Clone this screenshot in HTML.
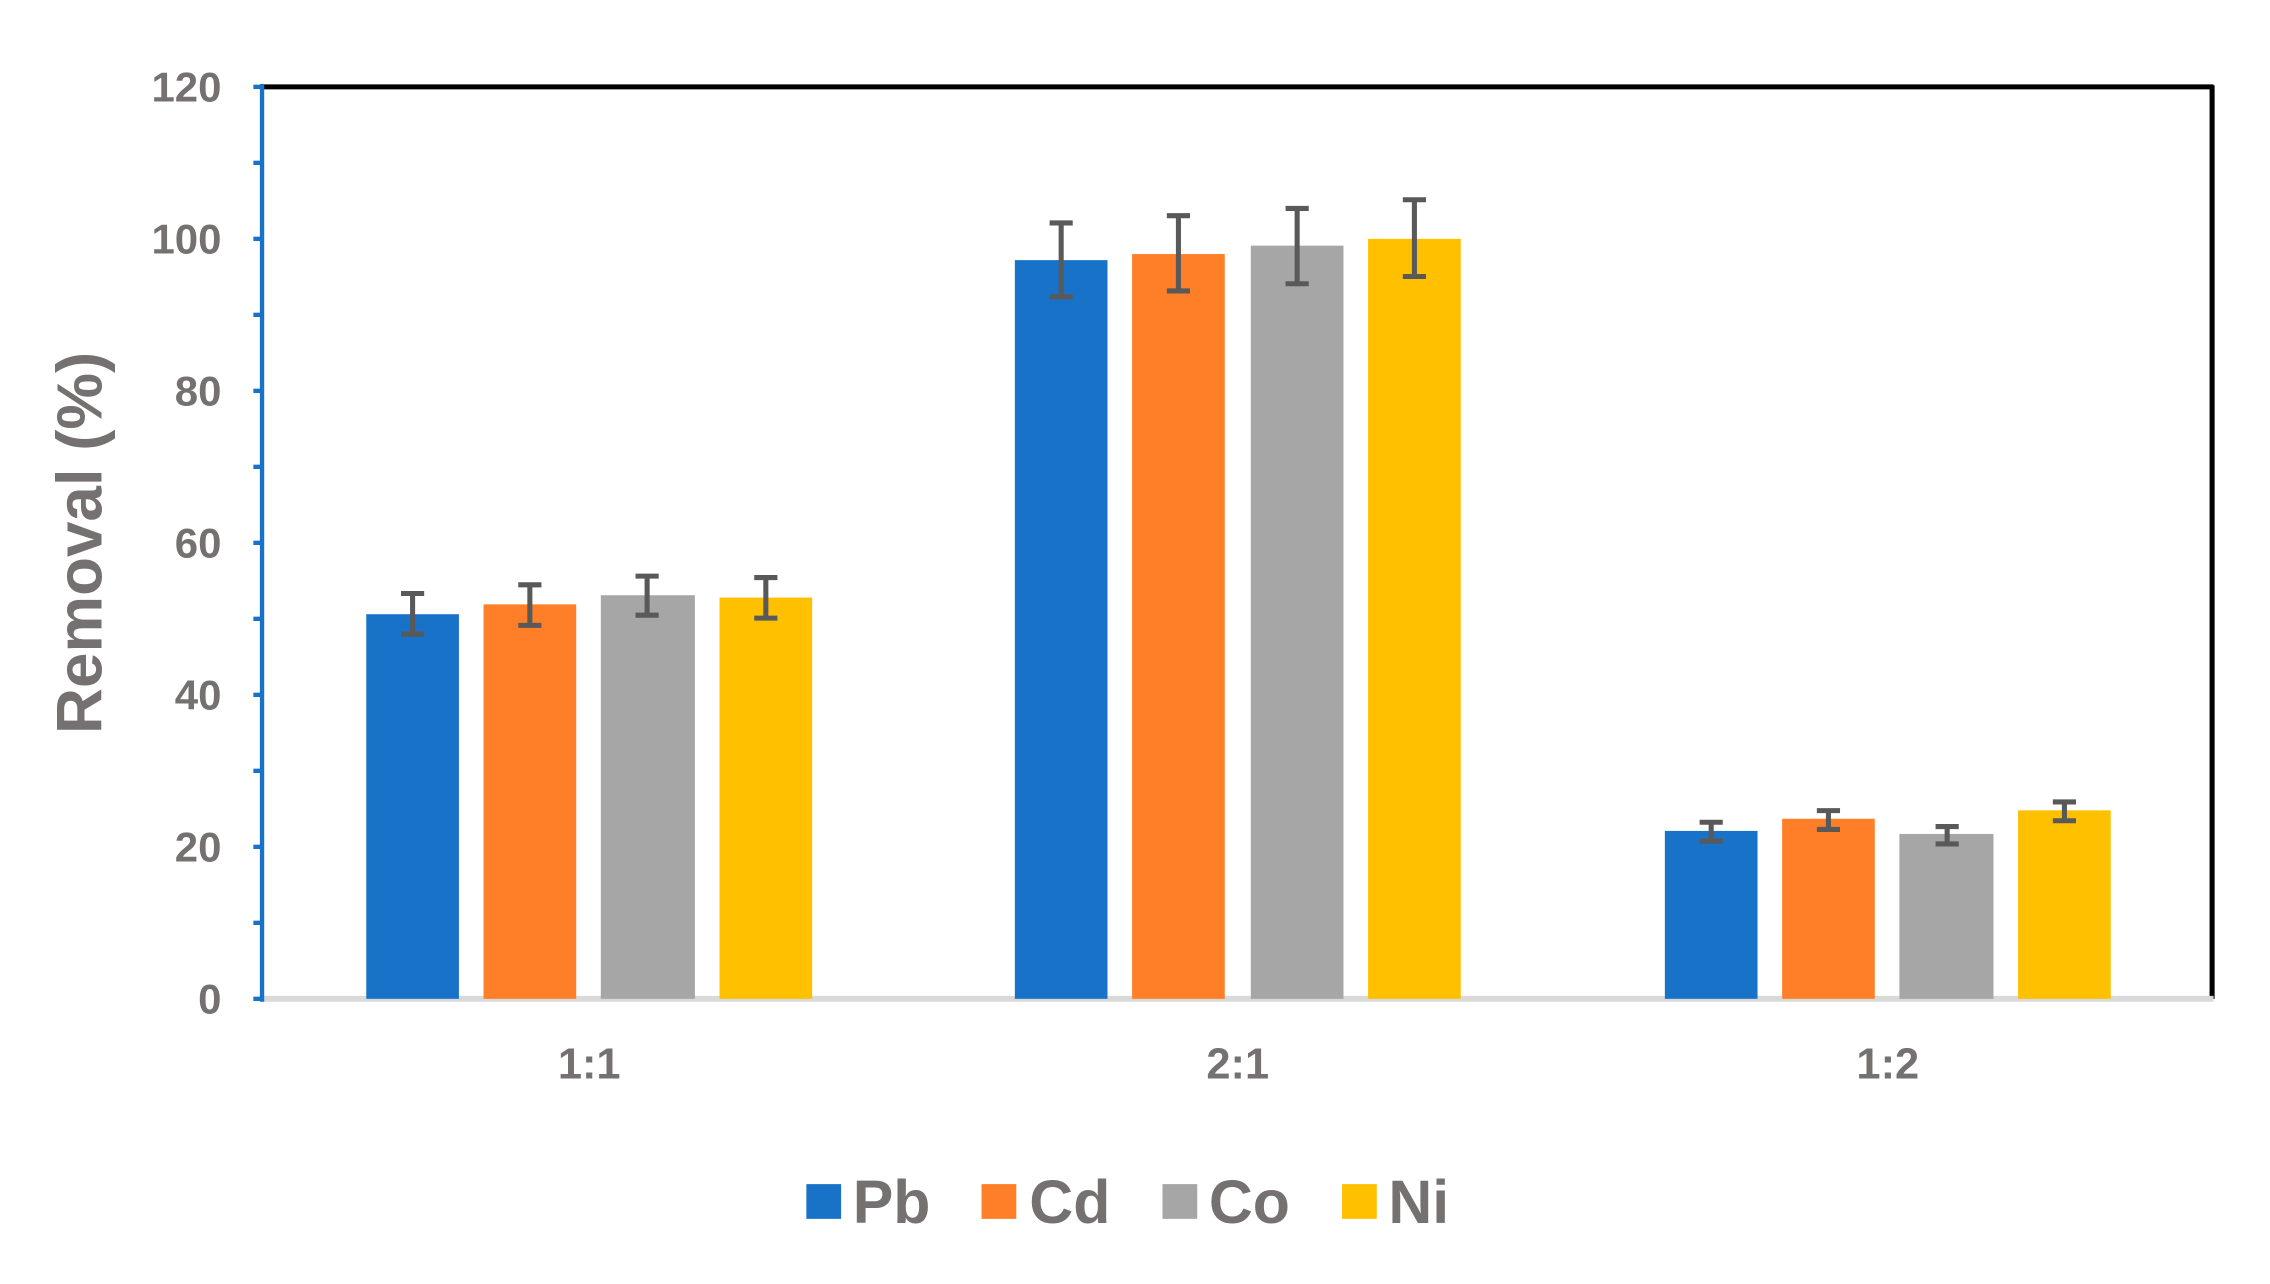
<!DOCTYPE html>
<html><head><style>html,body{margin:0;padding:0;background:#fff}svg{display:block}</style></head><body>
<svg width="2270" height="1284" viewBox="0 0 1568 887" preserveAspectRatio="none" xmlns="http://www.w3.org/2000/svg" font-family="Liberation Sans, Arial, sans-serif" font-weight="bold">
<rect width="1568" height="887" fill="#fff"/>
<line x1="181" y1="60" x2="1529" y2="60" stroke="#000" stroke-width="3.5"/>
<line x1="1528" y1="59" x2="1528" y2="690" stroke="#000" stroke-width="3.5"/>
<line x1="181" y1="690" x2="1529" y2="690" stroke="#d9d9d9" stroke-width="4"/>
<line x1="181" y1="58" x2="181" y2="692" stroke="#1872c8" stroke-width="3"/>
<g stroke="#1872c8" stroke-width="3">
<line x1="175" y1="60" x2="181" y2="60"/><line x1="175" y1="112.5" x2="181" y2="112.5"/><line x1="175" y1="165" x2="181" y2="165"/><line x1="175" y1="217.5" x2="181" y2="217.5"/><line x1="175" y1="270" x2="181" y2="270"/><line x1="175" y1="322.5" x2="181" y2="322.5"/><line x1="175" y1="375" x2="181" y2="375"/><line x1="175" y1="427.5" x2="181" y2="427.5"/><line x1="175" y1="480" x2="181" y2="480"/><line x1="175" y1="532.5" x2="181" y2="532.5"/><line x1="175" y1="585" x2="181" y2="585"/><line x1="175" y1="637.5" x2="181" y2="637.5"/><line x1="175" y1="690" x2="181" y2="690"/>
</g>
<g fill="#767171" font-size="29" text-anchor="end">
<text x="153" y="70">120</text><text x="153" y="175">100</text><text x="153" y="280">80</text><text x="153" y="385">60</text><text x="153" y="490">40</text><text x="153" y="595">20</text><text x="153" y="700">0</text>
</g>
<text transform="translate(70,375) rotate(-90)" text-anchor="middle" fill="#767171" font-size="44">Removal (%)</text>
<g fill="#767171" font-size="30" text-anchor="middle">
<text x="407" y="745">1:1</text><text x="855" y="745">2:1</text><text x="1304" y="745">1:2</text>
</g>
<g>
<rect x="253" y="424.3" width="64" height="265.7" fill="#1872c8"/>
<rect x="334" y="417.5" width="64" height="272.5" fill="#fe7f27"/>
<rect x="415" y="411.2" width="65" height="278.8" fill="#a6a6a6"/>
<rect x="497" y="412.8" width="64" height="277.2" fill="#ffc000"/>
<rect x="701" y="179.7" width="64" height="510.3" fill="#1872c8"/>
<rect x="782" y="175.5" width="64" height="514.5" fill="#fe7f27"/>
<rect x="864" y="169.7" width="64" height="520.3" fill="#a6a6a6"/>
<rect x="945" y="165" width="64" height="525" fill="#ffc000"/>
<rect x="1150" y="574" width="64" height="116" fill="#1872c8"/>
<rect x="1231" y="565.6" width="64" height="124.4" fill="#fe7f27"/>
<rect x="1312" y="576.1" width="65" height="113.9" fill="#a6a6a6"/>
<rect x="1394" y="559.8" width="64" height="130.2" fill="#ffc000"/>
</g>
<g stroke="#595959" stroke-width="3.5" fill="none">
<path d="M285 410v28M277 410h16M277 438h16"/>
<path d="M366 404v28M358 404h16M358 432h16"/>
<path d="M447 398v27M439 398h16M439 425h16"/>
<path d="M529 399v28M521 399h16M521 427h16"/>
<path d="M733 154v51M725 154h16M725 205h16"/>
<path d="M814 149v52M806 149h16M806 201h16"/>
<path d="M896 144v52M888 144h16M888 196h16"/>
<path d="M977 138v53M969 138h16M969 191h16"/>
<path d="M1182 568v13M1174 568h16M1174 581h16"/>
<path d="M1263 560v13M1255 560h16M1255 573h16"/>
<path d="M1345 571v12M1337 571h16M1337 583h16"/>
<path d="M1426 554v13M1418 554h16M1418 567h16"/>
</g>
<rect x="557" y="818" width="24" height="24" fill="#1872c8"/>
<rect x="678" y="818" width="24" height="24" fill="#fe7f27"/>
<rect x="803" y="818" width="24" height="24" fill="#a6a6a6"/>
<rect x="927" y="818" width="24" height="24" fill="#ffc000"/>
<g fill="#767171" font-size="42">
<text x="589" y="845">Pb</text><text x="711" y="845">Cd</text><text x="835" y="845">Co</text><text x="959" y="845">Ni</text>
</g>
</svg>
</body></html>
